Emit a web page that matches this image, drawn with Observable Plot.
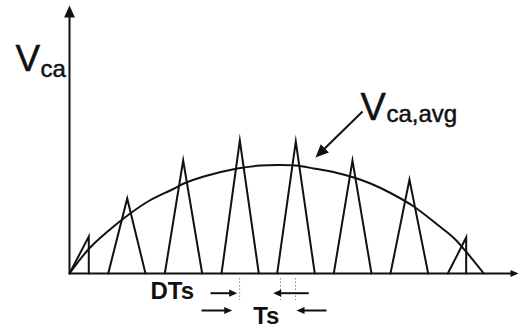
<!DOCTYPE html>
<html>
<head>
<meta charset="utf-8">
<script src="https://cdn.jsdelivr.net/npm/d3@7"></script>
<script src="https://cdn.jsdelivr.net/npm/@observablehq/plot@0.6"></script>
<style>
  html, body { margin: 0; padding: 0; background: #fff; }
  #chart svg { display: block; }
</style>
</head>
<body>
<div id="chart"></div>
<script>
// ---- Data (x in switching periods Ts, y in arbitrary voltage units) ----
// Triangular pulses of Vca
const pulseStart = [0, 0.683, 1.681, 2.681, 3.663, 4.661, 5.661, 6.672];
const pulsePeakT = [0.340, 1.018, 2.005, 3.004, 3.991, 4.991, 5.996, 6.996];
const pulseEnd   = [0.340, 1.340, 2.340, 3.339, 4.326, 5.326, 6.326, 6.996];
const pulsePeak  = [37, 75, 113, 133, 132, 113, 94, 36];

// Average voltage Vca,avg
const avgT = [0, 0.340, 0.693, 1.046, 1.399, 1.811, 2.016, 2.369, 2.958, 3.369, 3.686, 3.986, 4.309, 4.721, 5.014, 5.309, 5.661, 6.072, 6.485, 6.778, 7.014, 7.307];
const avgV = [0, 24.5, 43, 59, 72.5, 84, 90, 97, 105, 108, 108.5, 108, 105, 100.5, 96, 90, 80.5, 67, 49, 35.5, 20.5, 0];

// Labels
const yLabel = ["V", "ca"];
const avgLabel = ["V", "ca,avg"];
const dtsLabel = "DTs";
const tsLabel = "Ts";

// Interval marks (in Ts) under the axis
const markerT = [3.0, 3.721, 3.986];

// ---- Layout ----
const W = 518, H = 328;
const X_DOMAIN = [-69 / 56.7, 449 / 56.7];
const Y_DOMAIN = [-55, 273];
const PX_PER_X = W / (X_DOMAIN[1] - X_DOMAIN[0]);
const PX_PER_Y = H / (Y_DOMAIN[1] - Y_DOMAIN[0]);
const INK = "#111";
const FONT = "'Liberation Sans', Arial, Helvetica, sans-serif";

// Tables built from the arrays
const pulses = [];
pulseStart.forEach((s, i) => {
  pulses.push({pulse: i, t: s, v: 0});
  pulses.push({pulse: i, t: pulsePeakT[i], v: pulsePeak[i]});
  pulses.push({pulse: i, t: pulseEnd[i], v: 0});
});
const avg = avgT.map((t, i) => ({t, v: avgV[i]}));

// Arrows: axes, pointer to the average curve, DTs / Ts dimension arrows
const arrows = [
  {x1: 0, y1: 0, x2: 0, y2: 268, head: 12},                 // y axis
  {x1: 0, y1: 0, x2: X_DOMAIN[1], y2: 0, head: 8},          // x axis
  {x1: 5.168, y1: 162, x2: 4.339, y2: 116, head: 13},       // Vca,avg pointer
  {x1: 2.487, y1: -19.7, x2: 2.958, y2: -19.7, head: 8},    // DTs ->
  {x1: 4.220, y1: -19.7, x2: 3.592, y2: -19.7, head: 8},    // <- DTs
  {x1: 2.328, y1: -37, x2: 2.870, y2: -37, head: 8},        // Ts ->
  {x1: 4.533, y1: -37, x2: 4.004, y2: -37, head: 8}         // <- Ts
];
const angleOf = (d) =>
  Math.atan2((d.x2 - d.x1) * PX_PER_X, (d.y2 - d.y1) * PX_PER_Y) * 180 / Math.PI;
// shaft stops a bit before the tip so the filled head stays sharp
const shaftEnd = (d, k) => {
  const dx = (d.x2 - d.x1) * PX_PER_X, dy = (d.y2 - d.y1) * PX_PER_Y;
  const len = Math.hypot(dx, dy);
  const f = Math.max(0, (len - d.head * 0.6) / len);
  return k === "x" ? d.x1 + (d.x2 - d.x1) * f : d.y1 + (d.y2 - d.y1) * f;
};

// Filled arrow head whose tip sits at the anchor point, pointing up before rotation
const headSymbol = {
  draw(context, size) {
    const L = Math.sqrt(size / Math.PI);
    const w = 0.45 * L;
    context.moveTo(0, 0);
    context.lineTo(w, L);
    context.lineTo(-w, L);
    context.closePath();
  }
};

const markers = markerT.map((t) => ({t, y1: -5, y2: -27}));

const textOpts = {text: (d) => d, textAnchor: "start", lineAnchor: "bottom", fill: INK, stroke: INK, strokeWidth: 0.5};

const chart = Plot.plot({
  width: W,
  height: H,
  marginTop: 0, marginRight: 0, marginBottom: 0, marginLeft: 0,
  x: {domain: X_DOMAIN, axis: null},
  y: {domain: Y_DOMAIN, axis: null},
  r: {type: "identity"},
  style: {background: "#fff", fontFamily: FONT, color: INK, overflow: "visible"},
  marks: [
    // interval markers (dotted)
    Plot.ruleX(markers, {x: "t", y1: "y1", y2: "y2", stroke: "#888", strokeWidth: 1, strokeDasharray: "1.5,2"}),
    // pulses
    Plot.line(pulses, {x: "t", y: "v", z: "pulse", stroke: INK, strokeWidth: 2, strokeLinejoin: "miter", strokeMiterlimit: 10}),
    // average curve
    Plot.line(avg, {x: "t", y: "v", stroke: INK, strokeWidth: 2, curve: "catmull-rom"}),
    // arrow shafts
    Plot.link(arrows, {
      x1: "x1", y1: "y1",
      x2: (d) => shaftEnd(d, "x"), y2: (d) => shaftEnd(d, "y"),
      stroke: INK, strokeWidth: 2
    }),
    // arrow heads
    Plot.dot(arrows, {x: "x2", y: "y2", r: "head", rotate: angleOf, symbol: headSymbol, fill: INK, stroke: "none"}),
    // V_ca label
    Plot.text([yLabel[0]], {...textOpts, x: -0.952, y: 203, fontSize: 37}),
    Plot.text([yLabel[1]], {...textOpts, x: -0.511, y: 197, fontSize: 24}),
    // V_ca,avg label
    Plot.text([avgLabel[0]], {...textOpts, x: 5.132, y: 153.7, fontSize: 38}),
    Plot.text([avgLabel[1]], {...textOpts, x: 5.591, y: 151.3, fontSize: 24}),
    // DTs / Ts
    Plot.text([dtsLabel], {...textOpts, x: 1.429, y: -25.3, fontSize: 24, fontWeight: "bold", strokeWidth: 0}),
    Plot.text([tsLabel], {...textOpts, x: 3.240, y: -50, fontSize: 24, fontWeight: "bold", strokeWidth: 0})
  ]
});
document.getElementById("chart").appendChild(chart);
</script>
</body>
</html>
